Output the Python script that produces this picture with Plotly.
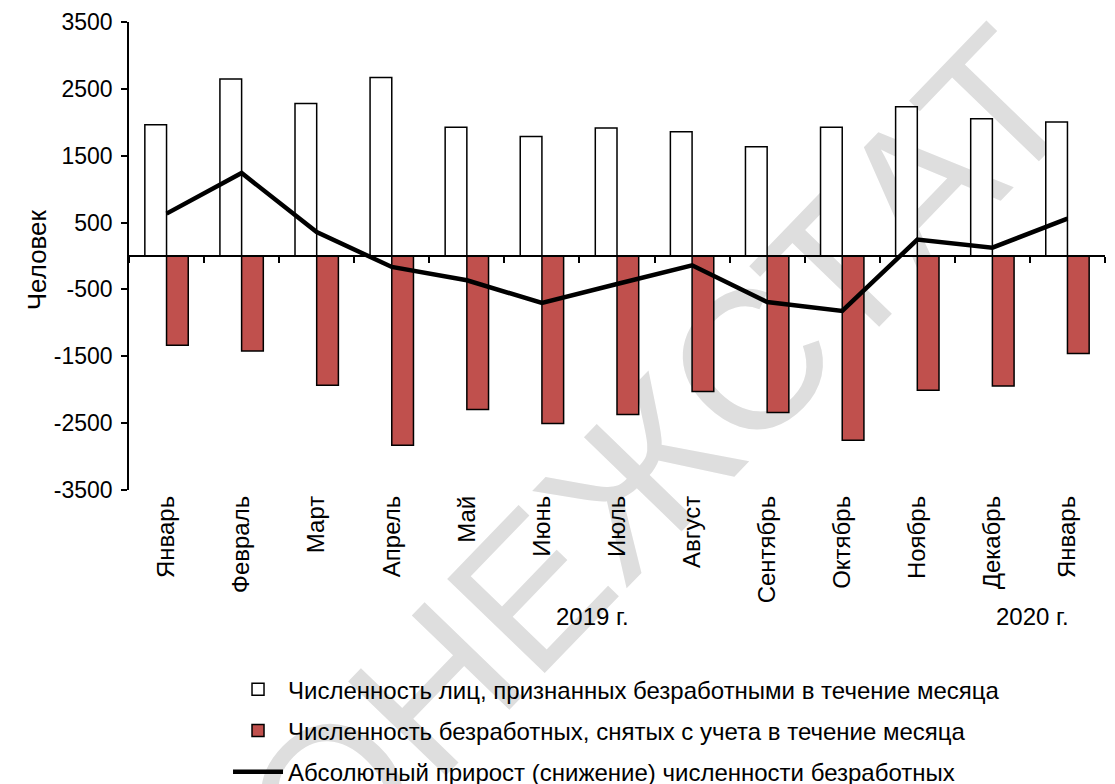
import plotly.graph_objects as go

months = ["Январь", "Февраль", "Март", "Апрель", "Май", "Июнь", "Июль",
          "Август", "Сентябрь", "Октябрь", "Ноябрь", "Декабрь", "Январь"]
recognized = [1964, 2646, 2282, 2671, 1924, 1789, 1913, 1859, 1635, 1924, 2233, 2054, 2003]
removed = [-1335, -1420, -1933, -2830, -2296, -2505, -2371, -2027, -2341, -2755, -2008, -1943, -1459]
net_change = [634, 1241, 359, -164, -363, -702, -418, -139, -688, -822, 245, 125, 559]
y_ticks = [-3500, -2500, -1500, -500, 500, 1500, 2500, 3500]
year_labels = ["2019 г.", "2020 г."]
y_title = "Человек"
series_names = [
    "Численность лиц, признанных безработными в течение месяца",
    "Численность безработных, снятых с учета в течение месяца",
    "Абсолютный прирост (снижение) численности безработных",
]
watermark = "ОНЕЖСТАТ"

FONT = "Arial, 'Liberation Sans', sans-serif"
idx = list(range(len(months)))
boundaries = [i + 0.5 for i in idx]
xr = [-0.5, len(months) - 0.5]

fig = go.Figure()
fig.add_trace(go.Bar(
    x=idx, y=recognized, name=series_names[0], legendgroup="a",
    marker=dict(color="white", line=dict(color="black", width=1.5)),
))
fig.add_trace(go.Bar(
    x=idx, y=removed, name=series_names[1], legendgroup="b",
    marker=dict(color="#C0504D", line=dict(color="black", width=1.5)),
))
fig.add_trace(go.Scatter(
    x=idx, y=net_change, name=series_names[2], legendgroup="c",
    mode="lines", line=dict(color="black", width=4.5), xaxis="x2",
))

fig.update_layout(
    width=1115, height=784,
    margin=dict(l=129, r=10, t=22, b=294, autoexpand=False),
    paper_bgcolor="white", plot_bgcolor="rgba(0,0,0,0)",
    font=dict(family=FONT, size=24, color="black"),
    barmode="group", bargap=0.422, bargroupgap=0,
    xaxis=dict(range=xr, tickvals=idx, ticktext=months, tickangle=-90,
               showline=False, ticks="", showgrid=False, zeroline=False,
               tickfont=dict(size=24), automargin=False),
    xaxis2=dict(range=xr, overlaying="x", anchor="free", position=0.5,
                showline=True, linecolor="black", linewidth=1.5,
                tickvals=boundaries + [-0.5], ticks="outside", ticklen=6,
                tickwidth=1.5, tickcolor="black", automargin=False,
                showticklabels=False, showgrid=False, zeroline=False),
    yaxis=dict(range=[-3500, 3500], tickvals=y_ticks,
               ticktext=[str(v) for v in y_ticks],
               ticks="outside", ticklen=6, tickwidth=1.5, tickcolor="black",
               showline=True, linecolor="black", linewidth=1.5,
               showgrid=False, zeroline=False, ticklabelstandoff=4,
               automargin=False, tickfont=dict(size=23)),
    legend=dict(xref="container", yref="container", x=0.2045, y=0.149,
                xanchor="left", yanchor="top", itemwidth=50,
                orientation="v", font=dict(size=24), tracegroupgap=7,
                bgcolor="rgba(0,0,0,0)", traceorder="grouped"),
    showlegend=True,
)

fig.add_annotation(text=y_title, xref="paper", yref="paper", x=-0.1117, y=0.493,
                   textangle=-90, showarrow=False, font=dict(size=26))
fig.add_annotation(text=year_labels[0], xref="paper", yref="paper",
                   x=0.4754, y=-0.3034, showarrow=False, font=dict(size=24))
fig.add_annotation(text=year_labels[1], xref="paper", yref="paper",
                   x=0.965, y=-0.3034, showarrow=False, font=dict(size=24))

fig.add_shape(type="rect", xref="paper", yref="paper",
              x0=0.5237, x1=0.5337, y0=0.0933, y1=0.1033, layer="below",
              line=dict(width=0), fillcolor="rgba(0,0,0,0)",
              label=dict(text=watermark, textangle=-46,
                         font=dict(size=197, color="#DEDEDE", family=FONT)))

fig.write_html("out.html", config={"displayModeBar": False},
               post_script="document.body.style.margin='0';")
